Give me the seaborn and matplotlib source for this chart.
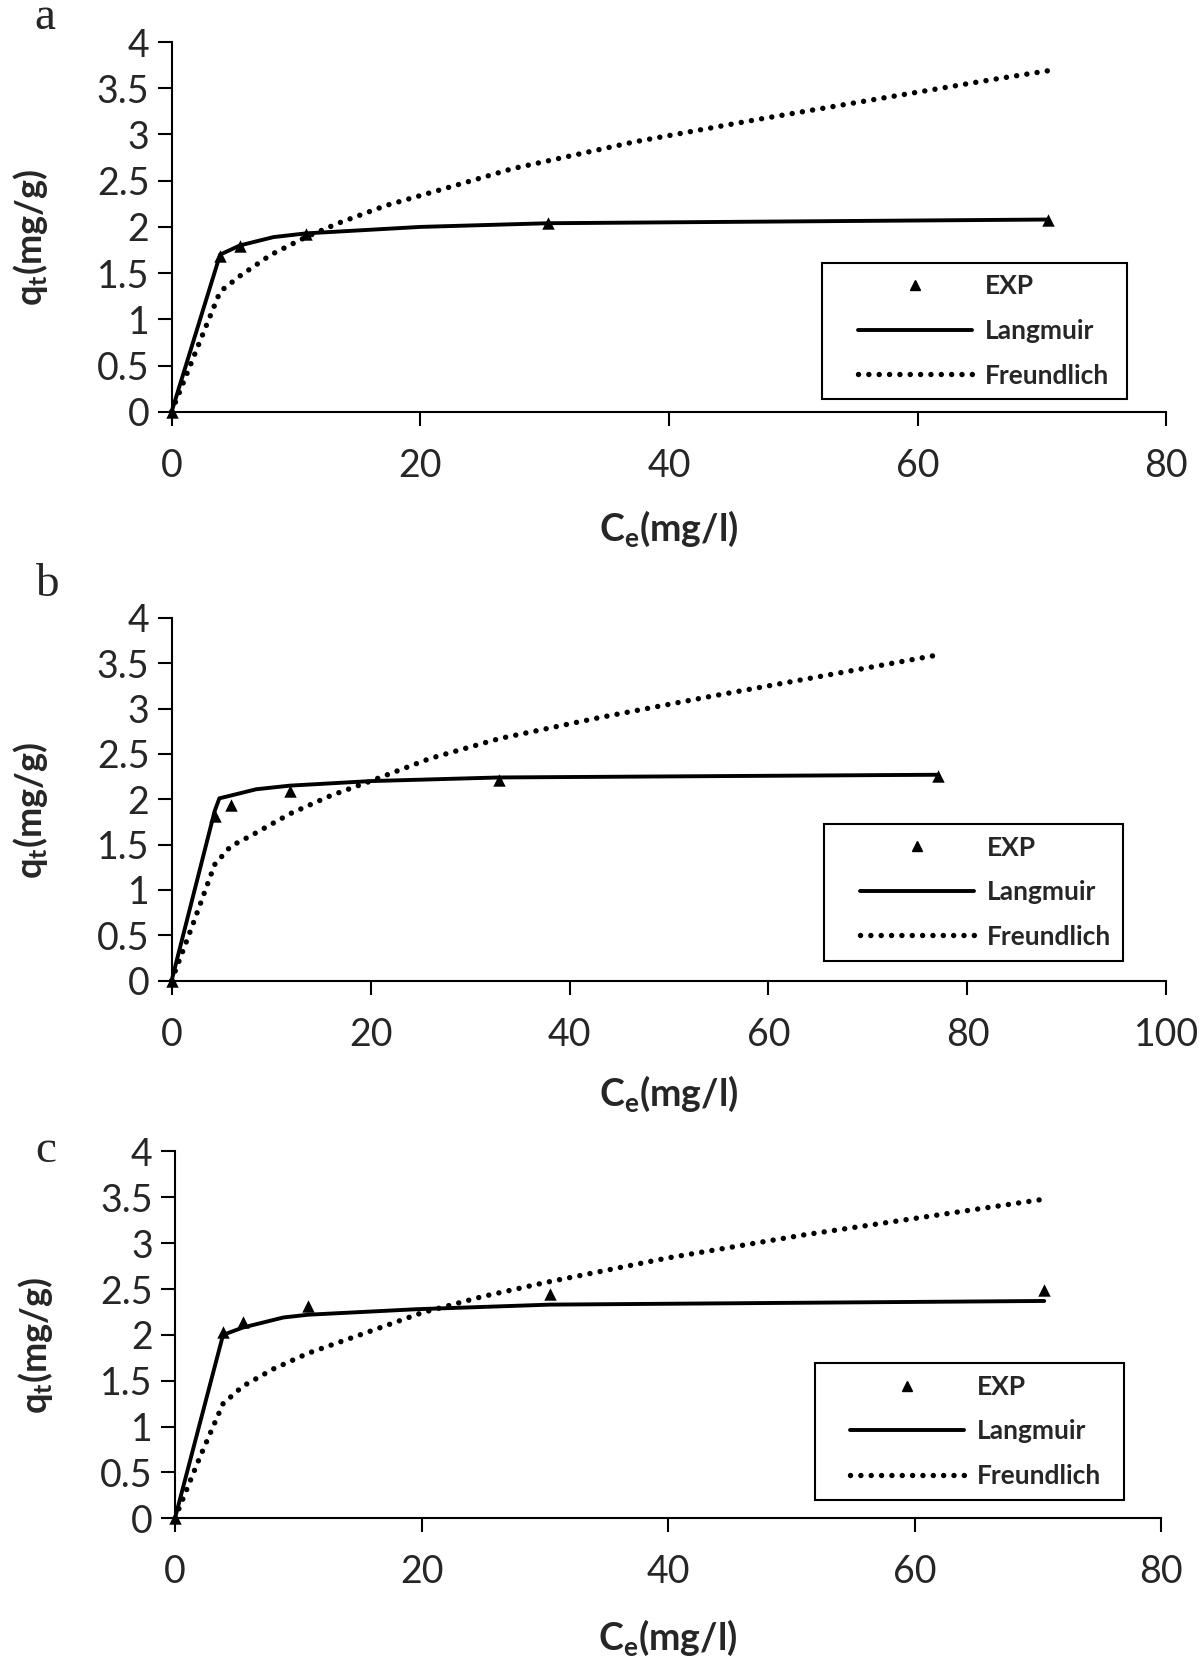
import matplotlib
matplotlib.use('Agg')
import matplotlib.pyplot as plt
import seaborn as sns
from matplotlib.lines import Line2D
from matplotlib.legend_handler import HandlerLine2D

# panel a
exp_x_a = [0, 3.9, 5.5, 10.8, 30.3, 70.5]
exp_y_a = [0, 1.68, 1.79, 1.92, 2.04, 2.08]
lang_x_a = [0, 3.9, 5.5, 8.2, 10.8, 20, 30.3, 70.5]
lang_y_a = [0, 1.70, 1.80, 1.89, 1.93, 2.00, 2.04, 2.08]
freu_x_a = [0, 2, 3.9, 5.5, 8, 10.8, 13.4, 17.2, 22.6, 27.4, 37.2, 47, 57, 65.8, 70.5]
freu_y_a = [0, 0.67, 1.30, 1.47, 1.70, 1.89, 2.04, 2.23, 2.44, 2.63, 2.92, 3.16, 3.39, 3.59, 3.69]

# panel b
exp_x_b = [0, 4.33, 5.93, 11.9, 32.9, 77]
exp_y_b = [0, 1.82, 1.94, 2.09, 2.21, 2.26]
lang_x_b = [0, 4.33, 4.8, 5.93, 8.5, 11.9, 20, 32.9, 77]
lang_y_b = [0, 1.87, 2.01, 2.04, 2.11, 2.15, 2.20, 2.24, 2.27]
freu_x_b = [0, 2, 4.33, 5.93, 8, 11.9, 16, 20, 26, 33, 43, 54, 65, 77]
freu_y_b = [0, 0.58, 1.28, 1.48, 1.60, 1.84, 2.04, 2.20, 2.45, 2.67, 2.90, 3.13, 3.35, 3.59]

# panel c
exp_x_c = [0, 3.9, 5.5, 10.8, 30.4, 70.5]
exp_y_c = [0, 2.03, 2.14, 2.31, 2.45, 2.49]
lang_x_c = [0, 3.9, 5.5, 8.8, 10.8, 19.6, 30.4, 70.5]
lang_y_c = [0, 2.00, 2.08, 2.19, 2.22, 2.28, 2.33, 2.37]
freu_x_c = [0, 2, 3.9, 5.5, 8, 10.8, 15, 20, 25, 30, 40, 51, 61.5, 70.5]
freu_y_c = [0, 0.66, 1.25, 1.44, 1.63, 1.80, 2.00, 2.24, 2.42, 2.57, 2.84, 3.09, 3.30, 3.48]

y_ticks = [0, 0.5, 1, 1.5, 2, 2.5, 3, 3.5, 4]
y_tick_labels = ['0', '0.5', '1', '1.5', '2', '2.5', '3', '3.5', '4']
x_ticks_80 = [0, 20, 40, 60, 80]
x_ticks_100 = [0, 20, 40, 60, 80, 100]
series_names = ['EXP', 'Langmuir', 'Freundlich']
panel_letters = ['a', 'b', 'c']

sns.set_style('ticks')
plt.rcParams['font.family'] = ['Lato', 'DejaVu Sans']
plt.rcParams['mathtext.fontset'] = 'custom'
plt.rcParams['mathtext.rm'] = 'Lato'
plt.rcParams['mathtext.bf'] = 'Lato:bold'
plt.rcParams['mathtext.it'] = 'Lato:italic'

fig = plt.figure(figsize=(12, 16.63), dpi=100)

panels = [
    dict(pos=[0.143, 0.7524, 0.829, 0.2223], exp=(exp_x_a, exp_y_a), lang=(lang_x_a, lang_y_a),
         freu=(freu_x_a, freu_y_a), xt=x_ticks_80, leg=(0.641, 0.032, 0.333, 0.373),
         letter_y=1.002, xpad=18),
    dict(pos=[0.143, 0.4103, 0.829, 0.2182], exp=(exp_x_b, exp_y_b), lang=(lang_x_b, lang_y_b),
         freu=(freu_x_b, freu_y_b), xt=x_ticks_100, leg=(0.643, 0.0565, 0.327, 0.375),
         letter_y=0.661, xpad=15),
    dict(pos=[0.1458, 0.0870, 0.8220, 0.2206], exp=(exp_x_c, exp_y_c), lang=(lang_x_c, lang_y_c),
         freu=(freu_x_c, freu_y_c), xt=x_ticks_80, leg=(0.635, 0.052, 0.341, 0.370),
         letter_y=0.321, xpad=20),
]

dotted = (0, (0.01, 1.9))

for letter, p in zip(panel_letters, panels):
    ax = fig.add_axes(p['pos'])
    sns.scatterplot(x=p['exp'][0], y=p['exp'][1], ax=ax, marker='^', color='black',
                    s=80, edgecolor='black', linewidth=0, clip_on=False, zorder=3)
    sns.lineplot(x=p['lang'][0], y=p['lang'][1], ax=ax, color='black', lw=2.8,
                 estimator=None, sort=False, clip_on=False)
    sns.lineplot(x=p['freu'][0], y=p['freu'][1], ax=ax, color='black', lw=3.9,
                 linestyle=dotted, dash_capstyle='round', estimator=None, sort=False, clip_on=False)

    ax.set_xlim(p['xt'][0], p['xt'][-1])
    ax.set_ylim(0, 4)
    ax.set_xticks(p['xt'])
    ax.set_xticklabels([str(v) for v in p['xt']])
    ax.set_yticks(y_ticks)
    ax.set_yticklabels(y_tick_labels)
    ax.tick_params(axis='both', direction='out', length=10, width=1.5, labelsize=27, color='black')
    ax.tick_params(axis='x', pad=16)
    ax.tick_params(axis='y', pad=6)
    for side in ['top', 'right']:
        ax.spines[side].set_visible(False)
    for side in ['left', 'bottom']:
        ax.spines[side].set_linewidth(1.5)
        ax.spines[side].set_color('black')

    ax.set_xlabel(r'$\mathbf{C_{e}(mg/l)}$', fontsize=27, labelpad=p['xpad'])
    ax.set_ylabel(r'$\mathbf{q_{t}(mg/g)}$', fontsize=26)
    ax.yaxis.set_label_coords(-0.122, 0.47)

    handles = [
        Line2D([], [], ls='none', marker='^', color='black', markersize=6.5),
        Line2D([], [], color='black', lw=2.8),
        Line2D([], [], color='black', lw=3.9, linestyle=dotted, dash_capstyle='round'),
    ]
    leg = ax.legend(handles, series_names, loc='center', bbox_to_anchor=p['leg'], mode='expand',
                    frameon=True, fancybox=False, edgecolor='black', framealpha=1,
                    prop=dict(weight='bold', size=19), handlelength=5.2, handletextpad=0.5,
                    labelspacing=0.78, borderpad=0.45,
                    handler_map={Line2D: HandlerLine2D(xpad=0.9)})
    leg.get_frame().set_linewidth(1.5)

    fig.text(0.029, p['letter_y'], letter, family='Liberation Serif', fontsize=34,
             va='top', ha='left')

fig.savefig('out.png', dpi=100)
